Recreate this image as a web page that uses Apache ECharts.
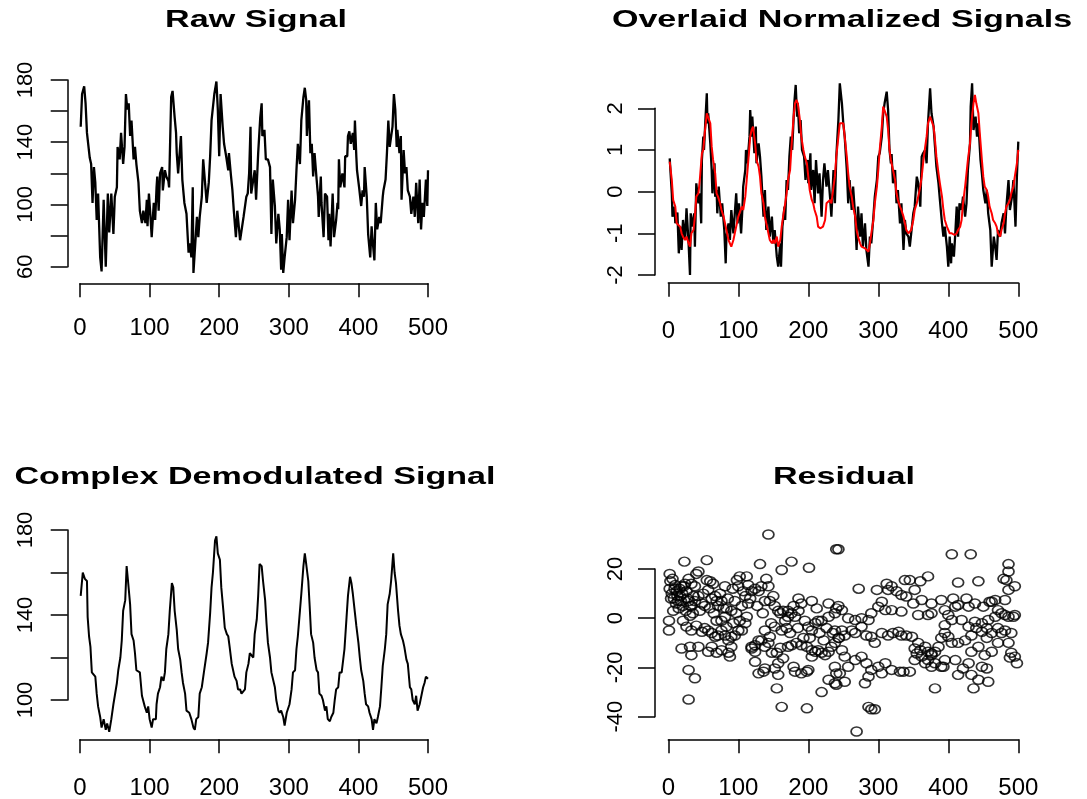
<!DOCTYPE html>
<html>
<head>
<meta charset="utf-8">
<script src="https://cdn.jsdelivr.net/npm/echarts@6/dist/echarts.min.js"></script>
<style>
  html, body { margin: 0; padding: 0; background: #fff; }
  #chart { width: 1087px; height: 799px; }
</style>
</head>
<body>
<div id="chart"></div>
<script>
// values, [index, value]
var rawSignal = [[1,150],[3,171],[6,176],[8,165],[10,146],[12,146],[14,130],[16,126],[18,101],[20,124],[22,114],[24,90],[26,107],[29,66],[31,57],[34,103],[37,60],[40,107],[42,82],[45,107],[48,81],[50,105],[53,111],[54,137],[57,129],[59,146],[62,126],[64,137],[66,171],[68,161],[70,165],[72,144],[74,154],[77,129],[79,137],[81,126],[84,114],[86,96],[89,88],[91,96],[94,88],[96,103],[97,86],[99,107],[101,94],[103,79],[106,101],[108,90],[110,111],[111,118],[113,96],[115,120],[118,124],[119,109],[122,122],[124,118],[127,115],[128,111],[131,169],[133,173],[136,156],[138,146],[139,133],[141,120],[145,144],[147,116],[150,101],[153,94],[156,69],[158,75],[160,66],[162,111],[163,56],[168,92],[170,79],[172,92],[175,105],[177,129],[182,101],[185,114],[187,131],[189,154],[193,171],[196,179],[198,161],[200,131],[202,171],[205,150],[207,139],[210,131],[213,122],[214,133],[217,118],[219,109],[221,96],[224,79],[226,96],[230,77],[235,92],[239,105],[241,107],[243,120],[245,150],[246,107],[251,122],[253,103],[256,133],[259,156],[261,165],[262,144],[265,148],[267,129],[270,129],[273,124],[275,81],[277,116],[280,99],[282,75],[285,94],[287,84],[289,58],[290,81],[292,56],[294,66],[297,79],[299,103],[301,77],[304,109],[306,88],[309,103],[311,122],[313,139],[316,126],[318,154],[321,169],[323,175],[325,167],[326,144],[329,167],[331,133],[333,139],[335,118],[337,133],[340,116],[342,105],[343,92],[346,118],[347,101],[350,79],[352,107],[355,105],[357,77],[358,94],[360,73],[363,107],[365,79],[368,90],[370,101],[371,97],[372,129],[374,111],[377,120],[380,111],[381,131],[384,131],[385,144],[387,147],[389,139],[392,146],[394,135],[395,154],[397,131],[398,122],[401,111],[404,99],[406,109],[408,105],[409,124],[412,105],[414,81],[417,66],[419,86],[420,79],[423,64],[425,101],[427,84],[430,92],[432,88],[435,105],[436,109],[439,116],[441,133],[443,154],[445,137],[447,137],[449,150],[451,171],[453,161],[455,137],[456,148],[459,133],[461,144],[462,103],[465,135],[467,120],[469,124],[471,109],[474,105],[476,94],[479,105],[481,92],[483,114],[486,88],[488,116],[490,84],[492,101],[494,92],[497,116],[499,99],[500,122]];

var normSignal = [[2,0.8],[5,-0.04],[6,-0.6],[9,-0.36],[10,-0.76],[13,-0.5],[15,-1.48],[17,-0.84],[19,-1.4],[21,-0.68],[24,-1.16],[26,-0.4],[29,-1.24],[31,-2.0],[32,-0.52],[35,-0.84],[37,-0.52],[38,-1.32],[40,0.2],[43,-0.28],[45,-0.04],[47,-0.76],[48,0.76],[50,1.32],[51,1.0],[53,1.72],[55,2.36],[56,1.64],[57,1.88],[60,1.16],[62,0.52],[63,-0.04],[66,0.68],[67,-0.12],[69,0.04],[70,-0.52],[72,0.12],[75,-0.6],[77,-0.28],[80,-0.92],[82,-1.72],[83,-1.08],[86,-0.76],[88,-1.16],[90,-0.44],[93,-1.0],[95,-0.52],[97,-0.04],[99,-0.76],[101,-0.28],[104,-1.0],[106,-0.36],[107,0.12],[110,0.52],[111,1.0],[113,0.68],[116,1.32],[117,1.96],[119,1.32],[120,1.8],[123,0.92],[125,1.56],[126,0.68],[129,1.16],[131,0.84],[133,0.36],[136,-0.6],[138,0.04],[140,-0.92],[143,-0.36],[145,-1.08],[148,-0.6],[150,-1.24],[152,-0.92],[155,-1.56],[157,-1.8],[160,-1.24],[161,-1.8],[163,-0.84],[166,-0.36],[167,-0.68],[169,0.28],[171,0.04],[173,0.84],[175,1.32],[177,1.0],[180,2.12],[182,2.56],[184,1.8],[185,2.12],[187,1.4],[189,1.72],[191,1.0],[194,0.84],[196,0.28],[199,0.76],[200,0.2],[203,0.92],[204,0.04],[207,0.52],[209,-0.28],[211,0.76],[214,-0.04],[216,0.44],[219,-0.6],[221,0.28],[223,0.68],[226,0.12],[228,0.52],[231,-0.12],[233,-0.6],[236,0.52],[238,-0.28],[240,0.84],[243,1.72],[245,2.6],[248,2.12],[250,1.64],[252,1.32],[255,0.52],[257,-0.28],[259,0.28],[262,-0.44],[264,0.12],[267,-0.6],[269,-1.4],[271,-0.36],[274,-1.08],[276,-0.52],[278,-1.32],[281,-0.76],[283,-1.4],[286,-1.8],[288,-1.08],[290,-1.24],[293,-0.6],[295,-0.12],[298,0.28],[300,0.84],[302,0.92],[305,1.32],[307,1.88],[309,2.12],[312,2.4],[314,1.96],[316,1.0],[318,0.68],[319,0.9],[321,0.2],[324,0.52],[326,-0.28],[328,0.04],[331,-0.76],[333,-0.28],[336,-1.4],[338,-0.68],[340,-1.0],[343,-1.08],[345,-1.32],[347,-1.0],[350,-0.52],[352,-0.36],[355,0.36],[357,0.2],[360,-0.36],[362,0.84],[364,0.92],[367,1.0],[369,0.68],[371,1.64],[374,2.48],[376,1.88],[379,1.56],[381,1.08],[383,0.6],[386,0.2],[388,-0.2],[391,-0.76],[393,-1.08],[395,-0.84],[398,-1.32],[400,-1.8],[402,-1.08],[404,-1.72],[405,-1.24],[408,-1.56],[410,-1.0],[412,-0.36],[414,-1.08],[416,-0.28],[419,-0.44],[421,-0.12],[424,-0.6],[426,-0.28],[428,0.52],[431,1.16],[432,2.04],[434,2.6],[436,1.48],[439,1.8],[441,1.32],[443,1.64],[446,0.76],[448,0.44],[450,0.04],[453,-0.28],[455,0.04],[457,-0.52],[460,-0.92],[462,-1.8],[465,-1.08],[467,-1.32],[469,-1.64],[471,-0.92],[474,-1.08],[476,-0.76],[479,-0.52],[481,-1.0],[483,-0.36],[486,0.28],[488,-0.44],[491,-0.12],[493,0.28],[496,-0.84],[498,0.36],[500,1.2]];

var normDemod = [[2,0.72],[5,0.28],[7,-0.2],[10,-0.36],[12,-0.76],[17,-0.84],[19,-1.0],[21,-1.08],[24,-1.16],[26,-1.08],[29,-1.24],[31,-1.32],[33,-1.0],[36,-0.92],[38,-0.6],[40,-0.12],[43,-0.04],[45,0.28],[48,0.92],[50,1.0],[52,1.4],[55,1.88],[57,1.88],[60,1.64],[62,1.08],[64,0.76],[67,0.44],[69,-0.04],[71,-0.12],[74,-0.28],[76,-0.44],[79,-0.6],[81,-0.76],[83,-0.92],[86,-1.16],[88,-1.24],[90,-1.32],[93,-1.16],[95,-1.0],[98,-0.76],[100,-0.6],[102,-0.6],[105,-0.36],[107,-0.44],[110,-0.12],[112,0.28],[114,0.68],[117,1.32],[119,1.48],[121,1.56],[124,1.16],[126,0.76],[129,0.6],[131,0.36],[133,-0.04],[136,-0.28],[138,-0.6],[140,-0.76],[143,-1.0],[145,-1.16],[148,-1.24],[150,-1.16],[152,-1.24],[155,-1.08],[157,-1.32],[160,-1.16],[162,-0.84],[164,-0.6],[167,-0.28],[169,-0.04],[171,0.28],[174,0.52],[176,1.08],[179,1.8],[181,2.12],[183,2.2],[185,2.12],[188,1.72],[190,1.32],[193,1.0],[195,0.84],[198,0.68],[200,0.36],[202,0.04],[205,-0.2],[207,-0.28],[209,-0.44],[212,-0.6],[214,-0.84],[217,-0.88],[219,-0.88],[221,-0.84],[224,-0.68],[226,-0.28],[228,-0.28],[231,-0.2],[233,-0.28],[236,0.12],[238,0.36],[240,0.84],[243,1.32],[245,1.64],[250,1.64],[252,1.32],[255,0.84],[257,0.44],[259,0.12],[262,-0.12],[264,-0.36],[267,-0.6],[269,-0.92],[271,-1.08],[274,-1.24],[276,-1.32],[278,-1.3],[281,-1.36],[283,-1.4],[286,-1.44],[288,-1.24],[290,-1.0],[293,-0.68],[295,-0.28],[298,0.12],[300,0.52],[302,1.0],[305,1.56],[307,2.04],[309,2.08],[312,1.8],[314,1.48],[316,1.0],[318,0.76],[321,0.52],[324,0.28],[326,-0.04],[328,-0.2],[331,-0.36],[333,-0.44],[336,-0.6],[338,-0.76],[340,-0.92],[343,-1.0],[345,-1.0],[347,-0.92],[350,-0.68],[352,-0.44],[355,-0.28],[357,-0.12],[360,0.12],[362,0.36],[364,0.68],[367,1.08],[369,1.32],[371,1.64],[374,1.8],[376,1.8],[379,1.56],[381,1.24],[383,0.84],[386,0.44],[388,0.2],[391,-0.12],[393,-0.44],[395,-0.68],[398,-0.84],[400,-0.92],[402,-1.0],[405,-1.0],[407,-1.0],[409,-1.04],[412,-1.0],[414,-0.92],[417,-0.84],[419,-0.68],[421,-0.28],[424,0.12],[426,0.44],[428,0.76],[431,1.16],[433,1.64],[436,2.12],[438,2.32],[440,2.12],[443,1.88],[445,1.4],[448,0.76],[450,0.36],[452,0.12],[455,0.04],[457,-0.12],[459,-0.36],[462,-0.52],[464,-0.68],[467,-0.76],[469,-0.84],[471,-1.0],[474,-1.08],[476,-0.92],[479,-0.76],[481,-0.52],[483,-0.36],[486,-0.28],[488,-0.2],[490,-0.04],[493,0.12],[495,0.36],[498,0.68],[500,1.0]];

var demodSignal = [[1,149],[4,160],[7,157],[10,156],[11,139],[13,130],[15,125],[17,113],[22,111],[24,103],[26,97],[29,92],[31,87],[34,91],[37,86],[39,89],[42,85],[45,91],[48,98],[50,98],[53,108],[55,114],[58,120],[60,128],[62,142],[65,147],[67,163],[69,156],[72,145],[74,131],[77,128],[79,122],[81,114],[86,113],[89,102],[91,102],[93,97],[96,94],[98,97],[100,91],[103,87],[105,91],[109,91],[110,98],[112,103],[115,106],[117,111],[120,109],[122,113],[124,124],[127,131],[129,142],[132,155],[134,153],[136,142],[139,133],[141,124],[144,119],[146,113],[148,108],[151,103],[153,95],[157,94],[160,91],[163,87],[165,86],[167,91],[170,92],[172,103],[175,106],[178,113],[182,122],[184,127],[187,141],[189,153],[191,160],[194,175],[196,177],[198,169],[201,166],[203,153],[206,142],[208,134],[211,131],[213,130],[215,125],[218,117],[220,114],[222,111],[225,109],[227,105],[230,105],[232,103],[237,105],[239,113],[242,117],[244,122],[246,122],[249,120],[251,131],[254,138],[256,149],[258,164],[261,163],[263,156],[266,147],[268,136],[270,127],[273,120],[275,113],[277,113],[280,106],[282,100],[285,95],[287,94],[289,95],[292,92],[294,88],[297,94],[299,94],[301,98],[304,105],[306,113],[309,114],[311,124],[313,130],[316,142],[318,150],[321,163],[323,169],[325,164],[328,156],[330,144],[332,131],[335,127],[337,120],[340,114],[342,113],[344,103],[347,102],[349,100],[352,95],[354,97],[356,91],[359,90],[361,92],[364,94],[366,100],[368,105],[371,106],[373,113],[376,113],[378,113],[380,124],[383,139],[385,149],[388,158],[390,155],[392,150],[395,141],[397,135],[400,127],[402,120],[404,114],[407,109],[409,103],[411,98],[414,97],[416,94],[419,91],[421,86],[423,91],[426,89],[428,92],[431,97],[433,106],[435,116],[438,124],[440,131],[442,145],[445,150],[447,156],[450,169],[452,160],[454,155],[457,142],[459,135],[461,131],[464,128],[466,125],[469,119],[471,117],[474,106],[476,105],[478,100],[481,98],[483,102],[485,95],[488,98],[490,98],[493,106],[495,108],[497,111],[500,110]];

var residual = [[2,18],[6,16],[2,12],[10,13.5],[4,8],[12,11],[1,-1],[1,-5],[7,3],[14,7],[17,9],[19,13],[24,14],[21,5],[26,11],[29,7],[23,23],[31,1],[33,5],[36,9],[38,13],[40,18],[43,19],[33,14],[29,16],[31,5],[38,7],[43,9],[48,6],[52,5],[55,15.5],[60,15],[64,14],[55,23.6],[57,11.5],[62,8],[67,9],[69,7],[76,7],[81,13],[71,5],[79,4],[83,4],[81,0.6],[90,3],[95,7],[98,15.5],[100,13],[102,17],[107,11],[112,17],[114,13.5],[110,9],[105,5],[114,6],[119,11],[124,12],[129,11],[133,13],[138,7],[143,13],[145,7],[150,9],[140,16],[131,22],[162,19.6],[176,23],[201,20.5],[143,34],[240,28],
  [21,-1],[26,-3.4],[33,-5],[40,-3],[48,-5.5],[52,-4],[57,-5],[62,-6],[67,-7.5],[71,-7],[76,-5],[81,-7],[86,-9],[90,-7.5],[95,-7],[100,-5],[105,-5],[110,-2],[112,0.6],[102,-1],[76,-1],[69,-1],[83,-3.4],[93,-2],[90,-11.6],[86,-14],[88,-15.6],[76,-13],[69,-14],[62,-11.6],[57,-13.6],[19,-12.3],[31,-11.6],[43,-11.6],[33,-15],[29,-21],[38,-24.4],[29,-33],[119,-11.6],[124,-11],[129,-9],[133,-9],[138,-5],[145,-7.5],[152,-3.4],[162,-5],[167,-1],[171,0.6],[176,2],[181,0.6],[186,3],[190,6],[195,-1],[200,-3.4],[205,-5],[210,-2],[214,-1],[219,-1],[229,0.6],[238,2],[243,5],[152,5],[157,3],[164,3],[171,3],[179,5],[186,8],[205,7],[212,4],[229,6],[124,-17.7],[129,-22.4],[136,-21.7],[138,-20.4],[152,-20.4],[157,-23],[157,-18.3],[164,-16.3],[171,-11.6],[176,-11],[183,-10],[190,-11],[198,-11.6],[205,-13],[210,-13.6],[214,-13],[219,-14],[224,-15],[229,-13.6],[233,-11.6],[238,-10],[179,-19.7],[181,-21.7],[190,-22.4],[198,-21.7],[200,-21],[205,-15.6],[148,-14],[155,-14],[160,-12],[143,-10],[124,-13.6],[119,-12.3],[155,-28.5],[162,-36],[198,-36.6],[219,-30],[229,-25],[238,-26.4],[240,-22.4],[138,-11.6],
  [3,15],[5,10],[8,8],[9,12],[11,6],[13,9],[15,4],[16,12],[18,7],[20,10],[22,13],[25,3],[27,8],[35,2],[45,3],[50,10],[59,4],[65,2],[74,10],[85,8],[92,12],[97,2],[117,8],[127,5],[135,2],[147,-2],[160,2],[169,-4],[174,-6],[185,-4],[193,-8],[202,-8],[216,-6],[222,-9],[226,-4],[235,-6],[244,-8],
  [243,28],[269,-46],[286,-36],[290,-37],[295,-37],[381,-28.5],[405,26],[432,26],[436,-28.5],[486,22],[486,19],[483,15.5],[495,13],[486,11.5],[272,12],[298,11.5],[312,14],[319,13],[338,15.5],[345,15.5],[360,15],[371,17],[414,14.5],[443,15],[479,16],[481,7.4],[467,7.4],[462,6.7],[495,1.3],[493,0.6],[490,-6],[486,-10],[490,-14],[495,-15.6],[498,-18.3],[488,-16],
  [314,11.5],[326,11],[333,9.4],[340,8.8],[352,11.5],[350,6],[362,7.4],[376,6],[390,7.4],[407,8],[410,4.7],[414,5.4],[426,8],[429,4.7],[395,3.3],[400,1.3],[371,1.3],[376,2],[305,6.7],[300,4.7],[310,3.3],[319,3.3],[333,2.7],[357,1.3],[438,6],[450,4.7],[459,6.7],[471,3.3],[476,2],[481,1.3],[486,0.6],[257,0],[267,-0.7],[276,0],[286,-0.7],[248,3.3],[240,4],[290,2],[405,-0.7],[395,-2.8],[419,-0.7],[448,-2],[457,-0.7],[467,0.6],[429,-3.4],[438,-1.4],
  [238,-5],[243,-8],[248,-5],[252,-7],[262,-5],[267,-6],[276,-3.4],[283,-7],[290,-7.5],[295,-10],[305,-6],[314,-7],[321,-6],[329,-5.5],[333,-7],[340,-7],[348,-7.5],[357,-10],[352,-12.3],[360,-13],[367,-11.6],[371,-13.6],[376,-15],[381,-13.6],[386,-11.6],[390,-8],[395,-6],[400,-7.5],[405,-10],[414,-10],[424,-9],[433,-7],[440,-4],[448,-5.5],[455,-4],[462,-6],[471,-4],[476,-6],[481,-5],[455,-8],[443,-11.6],[433,-13.6],[452,-15],[462,-13.6],[471,-10],[248,-13],[252,-15.6],[257,-19.7],[267,-17],[276,-15.6],[283,-18.3],[290,-21],[286,-23.7],[281,-26.4],[300,-19.7],[305,-22.4],[310,-18.3],[319,-21],[331,-21.7],[336,-21.7],[345,-21.7],[352,-17],[367,-18.3],[376,-19.7],[381,-18.3],[390,-19.7],[395,-17],[410,-17],[414,-23],[421,-20.4],[429,-18.3],[433,-23],[443,-25],[448,-19.7],[455,-20.4],[457,-25.8],[238,-19.7],[240,-27],[252,-25.8],[245,-22.4],[376,-14.3],[393,-19.7],[355,-14.3],[362,-15.6],[371,-17]];

var xTicks = [0, 100, 200, 300, 400, 500];
var titles = ["Raw Signal", "Overlaid Normalized Signals", "Complex Demodulated Signal", "Residual"];

var FONT = '"Liberation Sans", Arial, Helvetica, sans-serif';

// panel boxes: grid = tick range, offsets move the R style axes out
var panels = [
  { left: 80, top: 80, width: 348, height: 186.7, ymin: 60, ymax: 180, step: 20, every: 40, xOff: 16.6, yOff: 12.3, xMargin: 33, yMargin: 31 },
  { left: 668.3, top: 108.3, width: 350, height: 166.7, ymin: -2, ymax: 2, step: 1, every: 1, xOff: 7.7, yOff: 13.3, xMargin: 37, yMargin: 28 },
  { left: 80, top: 530, width: 348, height: 170, ymin: 100, ymax: 180, step: 20, every: 40, xOff: 39.3, yOff: 12.3, xMargin: 37, yMargin: 31 },
  { left: 668.3, top: 569, width: 350, height: 147.7, ymin: -40, ymax: 20, step: 20, every: 20, xOff: 22.6, yOff: 13.3, xMargin: 37, yMargin: 28 }
];
var titlePos = [[256, 20], [842, 20], [255, 477], [844, 477]];

var axisLine = { show: true, onZero: false, lineStyle: { color: "#000", width: 1.5 } };

var grid = [], xAxis = [], yAxis = [];
panels.forEach(function (p, i) {
  grid.push({ left: p.left, top: p.top, width: p.width, height: p.height, containLabel: false, outerBoundsMode: "none" });
  xAxis.push({
    gridIndex: i, type: "value", min: xTicks[0], max: xTicks[xTicks.length - 1], interval: 100,
    offset: p.xOff, splitLine: { show: false }, axisLine: axisLine,
    axisTick: { show: true, length: 14, lineStyle: { color: "#000", width: 1.5 } },
    axisLabel: { color: "#000", fontSize: 24, fontFamily: FONT, margin: p.xMargin, showMinLabel: true, showMaxLabel: true }
  });
  yAxis.push({
    gridIndex: i, type: "value", min: p.ymin, max: p.ymax, interval: p.step,
    offset: p.yOff, splitLine: { show: false }, axisLine: axisLine,
    axisTick: { show: true, length: 17, lineStyle: { color: "#000", width: 1.5 } },
    axisLabel: {
      color: "#000", fontSize: 22, fontFamily: FONT, margin: p.yMargin, rotate: 90,
      showMinLabel: true, showMaxLabel: true,
      formatter: function (v) { return (v - p.ymin) % p.every === 0 ? String(v) : ""; }
    }
  });
});

function lineSeries(idx, data, color, w) {
  return {
    type: "line", xAxisIndex: idx, yAxisIndex: idx, data: data,
    showSymbol: false, clip: false, animation: false, silent: true,
    lineStyle: { color: color, width: w }
  };
}

var series = [
  lineSeries(0, rawSignal, "#000", 2.3),
  lineSeries(1, normSignal, "#000", 2.3),
  lineSeries(1, normDemod, "#ff0000", 2),
  lineSeries(2, demodSignal, "#000", 2),
  {
    type: "scatter", xAxisIndex: 3, yAxisIndex: 3, data: residual,
    symbol: "circle", symbolSize: [11, 9], clip: false, animation: false, silent: true,
    itemStyle: { color: "rgba(0,0,0,0)", borderColor: "#000", borderWidth: 1.6 }
  }
];

var graphic = titles.map(function (t, i) {
  return {
    type: "text", x: titlePos[i][0], y: titlePos[i][1], scaleX: 1.42, silent: true,
    style: { text: t, fill: "#000", fontSize: 24, fontWeight: "bold", fontFamily: FONT, align: "center", verticalAlign: "middle" }
  };
});

var myChart = echarts.init(document.getElementById("chart"), null, { renderer: "canvas" });
myChart.setOption({
  backgroundColor: "#fff",
  animation: false,
  grid: grid,
  xAxis: xAxis,
  yAxis: yAxis,
  series: series,
  graphic: graphic
});
</script>
</body>
</html>
